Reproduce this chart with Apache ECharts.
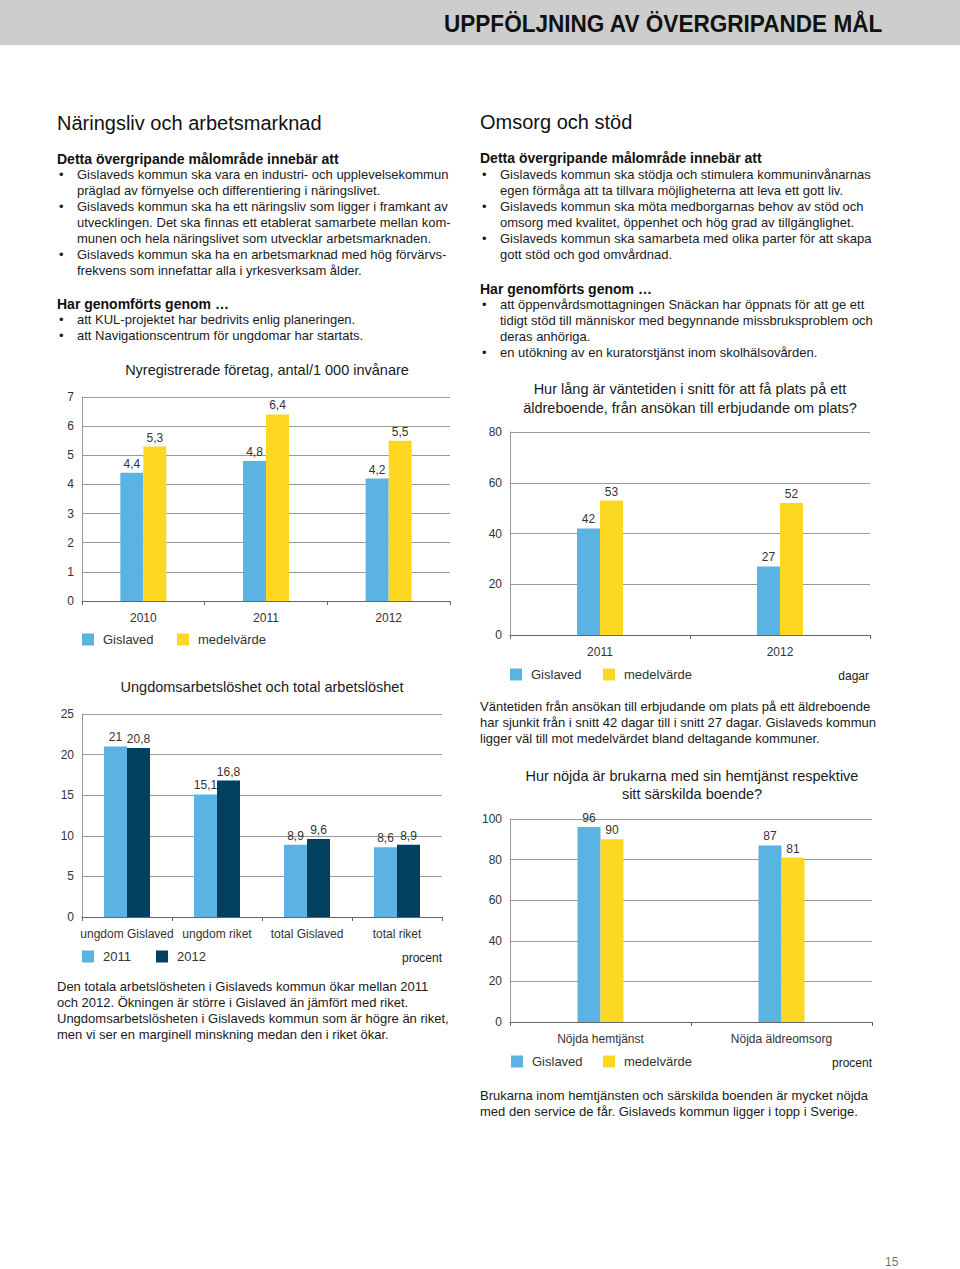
<!DOCTYPE html>
<html>
<head>
<meta charset="utf-8">
<script src="https://cdn.jsdelivr.net/npm/echarts@6/dist/echarts.min.js"></script>
<style>
html,body{margin:0;padding:0;background:#fff;}
body{width:960px;height:1269px;position:relative;overflow:hidden;font-family:"Liberation Sans",Arial,Helvetica,sans-serif;color:#1a1a1a;}
#chart{position:absolute;left:0;top:0;width:960px;height:1269px;z-index:1;}
.band{position:absolute;left:0;top:0;width:960px;height:45px;background:#cdcdcd;}
.hdr{position:absolute;right:78px;top:10px;font-size:24px;line-height:28px;font-weight:bold;color:#111;white-space:nowrap;transform:scaleX(0.94);transform-origin:right center;}
.t{position:absolute;white-space:nowrap;font-size:13px;line-height:16px;z-index:2;}
.h1{position:absolute;white-space:nowrap;font-size:20px;line-height:24px;z-index:2;color:#111;}
.h2{position:absolute;white-space:nowrap;font-size:14px;line-height:16px;font-weight:bold;z-index:2;color:#111;}
.bl{position:absolute;white-space:nowrap;font-size:13px;line-height:16px;z-index:2;}
.bl div{position:relative;padding-left:20px;}
.bl div:before{content:"\2022";position:absolute;left:2px;top:0;}
.pg{position:absolute;left:885px;top:1255px;font-size:12px;line-height:14px;color:#777;}
</style>
</head>
<body>
<div class="band"></div>
<div class="hdr">UPPFÖLJNING AV ÖVERGRIPANDE MÅL</div>

<!-- Left column -->
<div class="h1" style="left:57px;top:111px;">Näringsliv och arbetsmarknad</div>
<div class="h2" style="left:57px;top:151px;">Detta övergripande målområde innebär att</div>
<div class="bl" style="left:57px;top:167px;">
<div>Gislaveds kommun ska vara en industri- och upplevelsekommun<br>präglad av förnyelse och differentiering i näringslivet.</div>
<div>Gislaveds kommun ska ha ett näringsliv som ligger i framkant av<br>utvecklingen. Det ska finnas ett etablerat samarbete mellan kom-<br>munen och hela näringslivet som utvecklar arbetsmarknaden.</div>
<div>Gislaveds kommun ska ha en arbetsmarknad med hög förvärvs-<br>frekvens som innefattar alla i yrkesverksam ålder.</div>
</div>
<div class="h2" style="left:57px;top:296px;">Har genomförts genom …</div>
<div class="bl" style="left:57px;top:312px;">
<div>att KUL-projektet har bedrivits enlig planeringen.</div>
<div>att Navigationscentrum för ungdomar har startats.</div>
</div>
<div class="t" style="left:57px;top:979px;">Den totala arbetslösheten i Gislaveds kommun ökar mellan 2011<br>och 2012. Ökningen är större i Gislaved än jämfört med riket.<br>Ungdomsarbetslösheten i Gislaveds kommun som är högre än riket,<br>men vi ser en marginell minskning medan den i riket ökar.</div>

<!-- Right column -->
<div class="h1" style="left:480px;top:110px;">Omsorg och stöd</div>
<div class="h2" style="left:480px;top:150px;">Detta övergripande målområde innebär att</div>
<div class="bl" style="left:480px;top:167px;">
<div>Gislaveds kommun ska stödja och stimulera kommuninvånarnas<br>egen förmåga att ta tillvara möjligheterna att leva ett gott liv.</div>
<div>Gislaveds kommun ska möta medborgarnas behov av stöd och<br>omsorg med kvalitet, öppenhet och hög grad av tillgänglighet.</div>
<div>Gislaveds kommun ska samarbeta med olika parter för att skapa<br>gott stöd och god omvårdnad.</div>
</div>
<div class="h2" style="left:480px;top:281px;">Har genomförts genom …</div>
<div class="bl" style="left:480px;top:297px;">
<div>att öppenvårdsmottagningen Snäckan har öppnats för att ge ett<br>tidigt stöd till människor med begynnande missbruksproblem och<br>deras anhöriga.</div>
<div>en utökning av en kuratorstjänst inom skolhälsovården.</div>
</div>
<div class="t" style="left:480px;top:699px;">Väntetiden från ansökan till erbjudande om plats på ett äldreboende<br>har sjunkit från i snitt 42 dagar till i snitt 27 dagar. Gislaveds kommun<br>ligger väl till mot medelvärdet bland deltagande kommuner.</div>
<div class="t" style="left:480px;top:1088px;">Brukarna inom hemtjänsten och särskilda boenden är mycket nöjda<br>med den service de får. Gislaveds kommun ligger i topp i Sverige.</div>

<div class="pg">15</div>
<div id="chart"></div>

<script>
// ---- Data ----
const nyCategories = ['2010', '2011', '2012'];
const nyGislaved = [4.4, 4.8, 4.2];
const nyMedel = [5.3, 6.4, 5.5];

const arbCategories = ['ungdom Gislaved', 'ungdom riket', 'total Gislaved', 'total riket'];
const arb2011 = [21, 15.1, 8.9, 8.6];
const arb2012 = [20.8, 16.8, 9.6, 8.9];

const ventCategories = ['2011', '2012'];
const ventGislaved = [42, 27];
const ventMedel = [53, 52];

const nojdCategories = ['Nöjda hemtjänst', 'Nöjda äldreomsorg'];
const nojdGislaved = [96, 87];
const nojdMedel = [90, 81];

const chartTitles = [
  'Nyregistrerade företag, antal/1 000 invånare',
  'Ungdomsarbetslöshet och total arbetslöshet',
  'Hur lång är väntetiden i snitt för att få plats på ett\näldreboende, från ansökan till erbjudande om plats?',
  'Hur nöjda är brukarna med sin hemtjänst respektive\nsitt särskilda boende?'
];
const units = ['procent', 'dagar', 'procent'];

// ---- Styling ----
const FONT = '"Liberation Sans", Arial, Helvetica, sans-serif';
const BLUE = '#5ab3e2', YELLOW = '#fdd823', NAVY = '#03405f';
const fmt = p => String(p.value).replace('.', ',');

const grids = [
  {left: 82, top: 397, width: 368, height: 204},
  {left: 82, top: 714, width: 360, height: 203},
  {left: 510, top: 432, width: 360, height: 203},
  {left: 510, top: 819, width: 362, height: 203}
];
const cats = [nyCategories, arbCategories, ventCategories, nojdCategories];
const yMax = [7, 25, 80, 100];
const yInt = [1, 5, 20, 20];

const xAxes = cats.map((c, i) => ({
  type: 'category', gridIndex: i, data: c,
  axisLine: {lineStyle: {color: '#666', width: 1}},
  axisTick: {show: true, length: 4, lineStyle: {color: '#666'}},
  axisLabel: {interval: 0, margin: 11, fontSize: 12, color: '#333', fontFamily: FONT}
}));
const yAxes = yMax.map((m, i) => ({
  type: 'value', gridIndex: i, min: 0, max: m, interval: yInt[i],
  axisLine: {show: true, lineStyle: {color: '#999', width: 1}},
  axisTick: {show: false},
  splitLine: {lineStyle: {color: '#999', width: 1}},
  axisLabel: {margin: 8, fontSize: 12, color: '#333', fontFamily: FONT}
}));

function bar(name, data, idx, color) {
  return {
    type: 'bar', name: name, data: data, xAxisIndex: idx, yAxisIndex: idx,
    barWidth: 23, barGap: '0%', itemStyle: {color: color},
    label: {show: true, position: 'top', distance: 3, formatter: fmt,
            fontSize: 12, color: '#333', fontFamily: FONT}
  };
}

const series = [
  bar('Gislaved', nyGislaved, 0, BLUE),
  bar('medelvärde', nyMedel, 0, YELLOW),
  bar('2011', arb2011, 1, BLUE),
  bar('2012', arb2012, 1, NAVY),
  bar('Gislaved', ventGislaved, 2, BLUE),
  bar('medelvärde', ventMedel, 2, YELLOW),
  bar('Gislaved', nojdGislaved, 3, BLUE),
  bar('medelvärde', nojdMedel, 3, YELLOW)
];

function leg(name, left, cy) {
  return {
    data: [name], left: left, top: cy - 8, padding: 0,
    itemWidth: 12, itemHeight: 12, icon: 'rect', selectedMode: false,
    textStyle: {fontSize: 13, color: '#333', fontFamily: FONT, padding: [0, 0, 0, 4]}
  };
}
const legends = [
  leg('Gislaved', 82, 641), leg('medelvärde', 177, 641),
  leg('2011', 82, 958), leg('2012', 156, 958),
  leg('Gislaved', 510, 676), leg('medelvärde', 603, 676),
  leg('Gislaved', 511, 1063), leg('medelvärde', 603, 1063)
];

function txt(s, x, y, align, size, lh) {
  return {
    type: 'text', x: x, y: y, silent: true,
    style: {text: s, fontSize: size, fontFamily: FONT, fill: '#1a1a1a',
            align: align, verticalAlign: 'middle', textAlign: align, textVerticalAlign: 'middle',
            lineHeight: lh || size + 4}
  };
}
const graphics = [
  txt(chartTitles[0], 267, 370, 'center', 14.5),
  txt(chartTitles[1], 262, 687, 'center', 14.5),
  txt(chartTitles[2], 690, 398, 'center', 14.5, 19),
  txt(chartTitles[3], 692, 785, 'center', 14.5, 18),
  txt(units[0], 442, 958, 'right', 12),
  txt(units[1], 869, 676, 'right', 12),
  txt(units[2], 872, 1063, 'right', 12)
];

const chart = echarts.init(document.getElementById('chart'), null, {renderer: 'svg'});
chart.setOption({
  animation: false,
  backgroundColor: 'transparent',
  textStyle: {fontFamily: FONT},
  grid: grids,
  xAxis: xAxes,
  yAxis: yAxes,
  legend: legends,
  series: series,
  graphic: graphics
});
</script>
</body>
</html>
